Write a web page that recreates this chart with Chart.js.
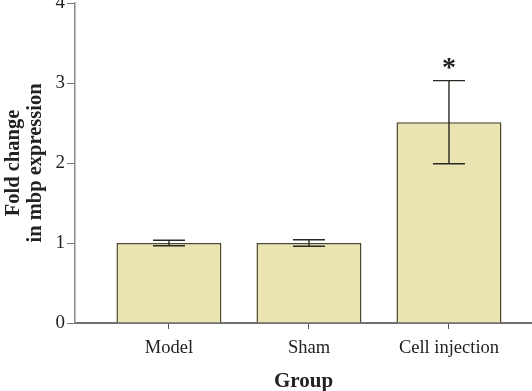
<!DOCTYPE html>
<html lang="en">
<head>
    <meta charset="UTF-8">
    <title>Fold change in mbp expression</title>
    <style>
        body {
            margin: 0;
            background: #fff;
        }
        #wrap {
            width: 532px;
            height: 391px;
        }
    </style>
</head>
<body>
    <div id="wrap">
        <canvas id="myChart" width="532" height="391"></canvas>
    </div>

    <script src="https://cdn.jsdelivr.net/npm/chart.js@4"></script>
    <script>
        // data
        var groups = ['Model', 'Sham', 'Cell injection'];
        var foldChange = [1.0, 1.0, 2.51];
        var errors = [0.035, 0.04, 0.52];
        var marks = ['', '', '*'];
        var yTicks = [0, 1, 2, 3, 4];

        var serif = "'Liberation Serif', 'Times New Roman', serif";

        // error bars + significance mark
        var errorBars = {
            id: 'errorBars',
            afterDatasetsDraw: function(chart) {
                var ctx = chart.ctx;
                var xs = chart.scales.x;
                var ys = chart.scales.y;
                ctx.save();
                ctx.strokeStyle = '#2a2a22';
                ctx.lineWidth = 1.4;
                for (var i = 0; i < foldChange.length; i++) {
                    var x = xs.getPixelForValue(i);
                    var top = ys.getPixelForValue(foldChange[i] + errors[i]);
                    var bot = ys.getPixelForValue(foldChange[i] - errors[i]);
                    ctx.beginPath();
                    ctx.moveTo(x, top);
                    ctx.lineTo(x, bot);
                    ctx.moveTo(x - 16, top);
                    ctx.lineTo(x + 16, top);
                    ctx.moveTo(x - 16, bot);
                    ctx.lineTo(x + 16, bot);
                    ctx.stroke();
                    if (marks[i]) {
                        ctx.fillStyle = '#222';
                        ctx.font = 'bold 28px ' + serif;
                        ctx.textAlign = 'center';
                        ctx.textBaseline = 'middle';
                        ctx.fillText(marks[i], x, top - 12);
                    }
                }
                ctx.restore();
            }
        };

        var ctx = document.getElementById('myChart').getContext('2d');

        var config = {
            type: 'bar',
            data: {
                datasets: [{
                    data: foldChange.map(function(v, i) { return {x: i, y: v}; }),
                    backgroundColor: '#E9E4B1',
                    borderColor: '#4d4a30',
                    borderWidth: 1.5,
                    barPercentage: 0.75,
                    categoryPercentage: 1
                }]
            },
            options: {
                responsive: false,
                animation: false,
                layout: {
                    padding: {top: 3, right: 0, bottom: 0, left: 0}
                },
                plugins: {
                    legend: {display: false},
                    tooltip: {enabled: false}
                },
                scales: {
                    x: {
                        type: 'linear',
                        min: -0.671,
                        max: 2.593,
                        offset: false,
                        afterBuildTicks: function(scale) {
                            scale.ticks = groups.map(function(g, i) { return {value: i}; });
                        },
                        afterFit: function(scale) {
                            scale.height = 68;
                            scale.paddingLeft = 0;
                            scale.paddingRight = 0;
                        },
                        grid: {
                            offset: false,
                            drawOnChartArea: false,
                            tickLength: 6,
                            color: '#555',
                            tickWidth: 1
                        },
                        border: {color: '#707070', width: 2},
                        ticks: {
                            autoSkip: false,
                            maxRotation: 0,
                            padding: 8,
                            color: '#222',
                            font: {family: serif, size: 18.5},
                            callback: function(v) { return groups[v]; }
                        },
                        title: {
                            display: true,
                            text: 'Group',
                            color: '#222',
                            padding: 0,
                            font: {family: serif, size: 21, weight: 'bold', lineHeight: 0.85}
                        }
                    },
                    y: {
                        min: 0,
                        max: 4,
                        afterBuildTicks: function(scale) {
                            scale.ticks = yTicks.map(function(t) { return {value: t}; });
                        },
                        afterFit: function(scale) {
                            scale.width = 75;
                            scale.paddingTop = 0;
                            scale.paddingBottom = 0;
                        },
                        grid: {
                            drawOnChartArea: false,
                            tickLength: 8,
                            color: '#777'
                        },
                        border: {color: '#8a8a8a', width: 1.5},
                        ticks: {
                            padding: 2,
                            color: '#222',
                            font: {family: serif, size: 19}
                        },
                        title: {
                            display: true,
                            text: ['Fold change', 'in mbp expression'],
                            color: '#222',
                            padding: {top: 3, bottom: 0},
                            font: {family: serif, size: 20.5, weight: 'bold', lineHeight: 1.05}
                        }
                    }
                }
            },
            plugins: [errorBars]
        };

        var chart = new Chart(ctx, config);
    </script>
</body>
</html>
